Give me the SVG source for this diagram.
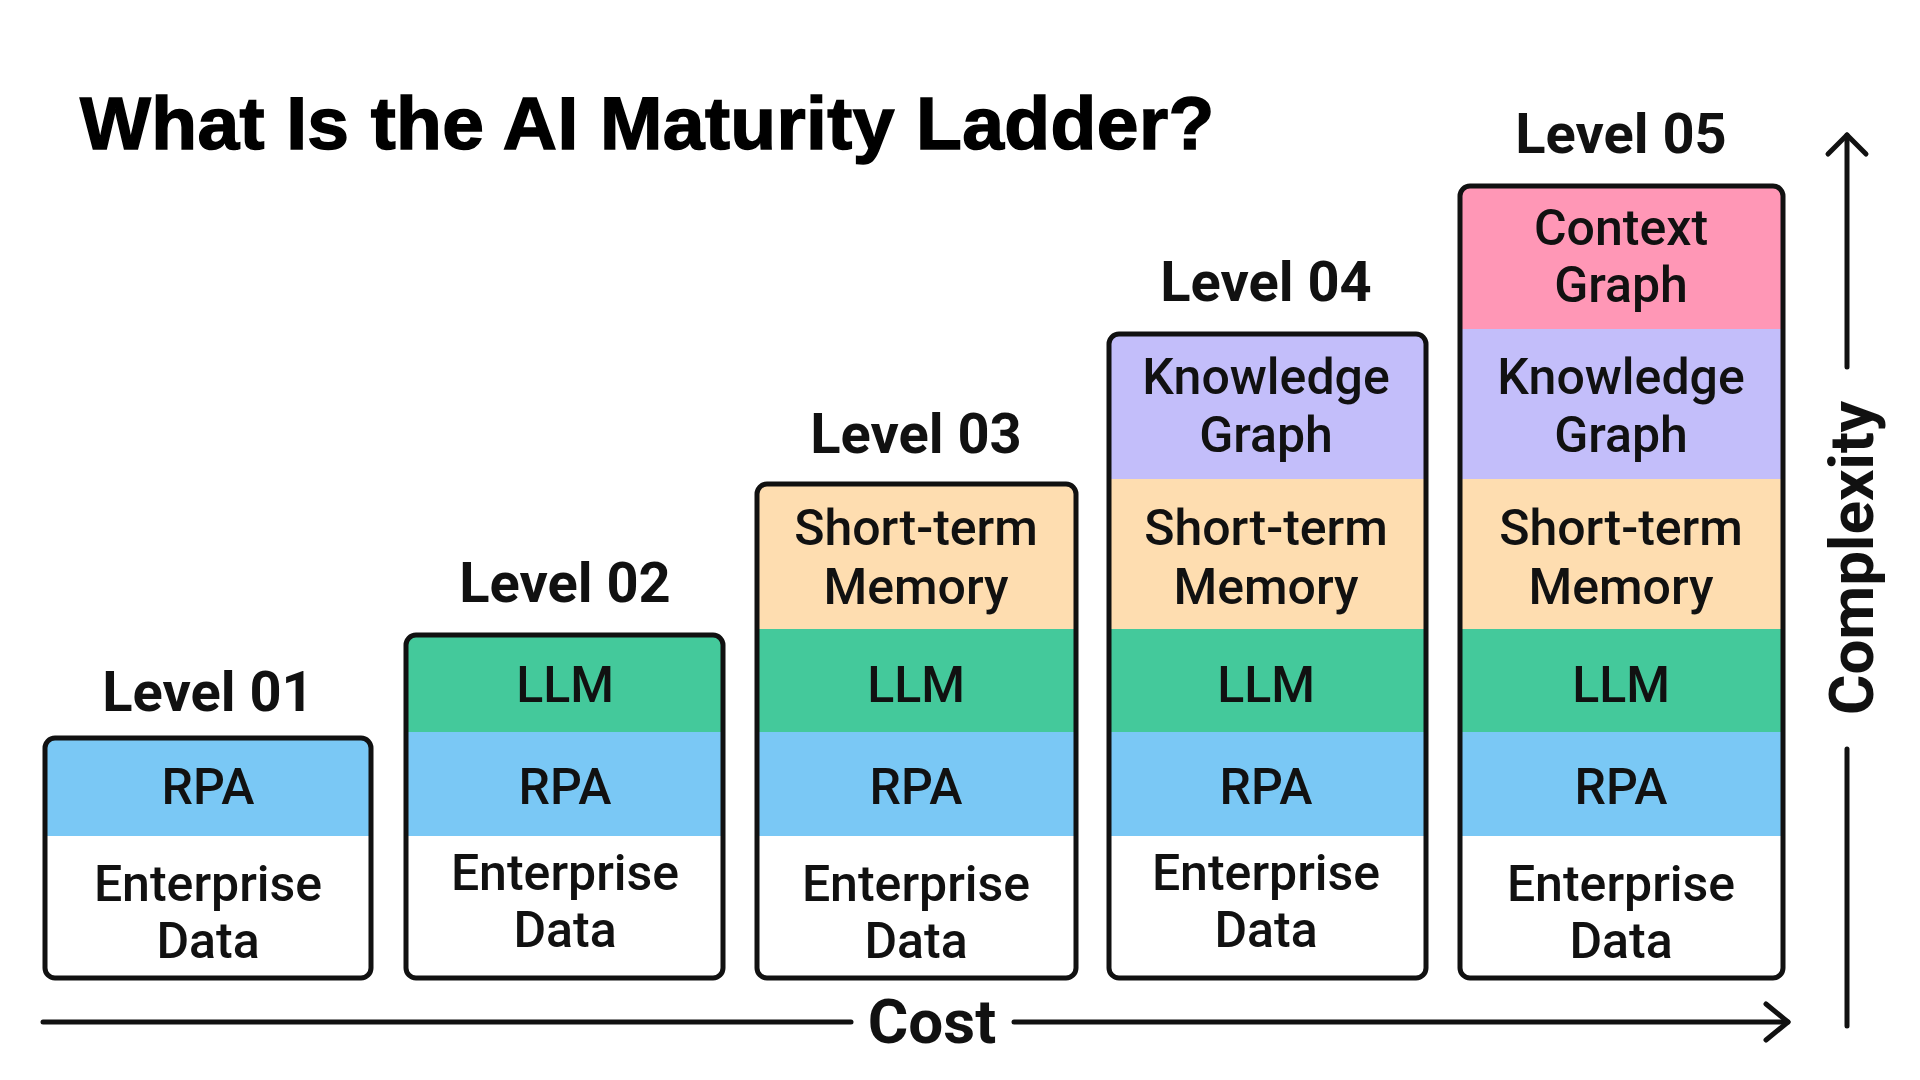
<svg xmlns="http://www.w3.org/2000/svg" width="1920" height="1080" viewBox="0 0 1920 1080">
<style>
.title{font-family:"Liberation Sans",Arial,sans-serif;font-weight:700;font-size:75px;fill:#000;stroke:#000;stroke-width:1.5;letter-spacing:0.4px}
.lvl{font-family:Roboto,"Liberation Sans",sans-serif;font-weight:700;font-size:56px;fill:#111;text-anchor:middle}
.lt{font-family:Roboto,"Liberation Sans",sans-serif;font-weight:500;font-size:50px;fill:#111;text-anchor:middle}
.ax{font-family:Roboto,"Liberation Sans",sans-serif;font-weight:700;font-size:62px;fill:#111}
.box{fill:none;stroke:#111;stroke-width:5}
.ent{fill:#fff}.rpa{fill:#7AC8F5}.llm{fill:#44C99B}.stm{fill:#FEDDB0}.kg{fill:#C3BEFA}.cg{fill:#FF97B6}
.line{stroke:#111;stroke-width:5;fill:none;stroke-linecap:round;stroke-linejoin:round}
</style>
<defs>
<clipPath id="c1"><rect x="45" y="738" width="326" height="240" rx="10"/></clipPath>
<clipPath id="c2"><rect x="406" y="635" width="317" height="343" rx="10"/></clipPath>
<clipPath id="c3"><rect x="757" y="484" width="319" height="494" rx="10"/></clipPath>
<clipPath id="c4"><rect x="1109" y="334" width="317" height="644" rx="10"/></clipPath>
<clipPath id="c5"><rect x="1460" y="186" width="323" height="792" rx="10"/></clipPath>
</defs>
<rect width="1920" height="1080" fill="#fff"/>
<text class="title" x="80" y="149">What Is the AI Maturity Ladder?</text>

<g id="level01">
<g clip-path="url(#c1)">
<rect class="rpa" x="40" y="730" width="340" height="106"/>
<rect class="ent" x="40" y="836" width="340" height="150"/>
</g>
<rect class="box" x="45" y="738" width="326" height="240" rx="10"/>
<text class="lvl" x="208" y="711">Level 01</text>
<text class="lt" x="208" y="804">RPA</text>
<text class="lt" x="208" y="901">Enterprise</text>
<text class="lt" x="208" y="958">Data</text>
</g>

<g id="level02">
<g clip-path="url(#c2)">
<rect class="llm" x="400" y="625" width="330" height="107"/>
<rect class="rpa" x="400" y="732" width="330" height="104"/>
<rect class="ent" x="400" y="836" width="330" height="150"/>
</g>
<rect class="box" x="406" y="635" width="317" height="343" rx="10"/>
<text class="lvl" x="565" y="602">Level 02</text>
<text class="lt" x="565" y="702">LLM</text>
<text class="lt" x="565" y="804">RPA</text>
<text class="lt" x="565" y="890">Enterprise</text>
<text class="lt" x="565" y="947">Data</text>
</g>

<g id="level03">
<g clip-path="url(#c3)">
<rect class="stm" x="750" y="475" width="330" height="154"/>
<rect class="llm" x="750" y="629" width="330" height="103"/>
<rect class="rpa" x="750" y="732" width="330" height="104"/>
<rect class="ent" x="750" y="836" width="330" height="150"/>
</g>
<rect class="box" x="757" y="484" width="319" height="494" rx="10"/>
<text class="lvl" x="916" y="453">Level 03</text>
<text class="lt" x="916" y="545">Short-term</text>
<text class="lt" x="916" y="604">Memory</text>
<text class="lt" x="916" y="702">LLM</text>
<text class="lt" x="916" y="804">RPA</text>
<text class="lt" x="916" y="901">Enterprise</text>
<text class="lt" x="916" y="958">Data</text>
</g>

<g id="level04">
<g clip-path="url(#c4)">
<rect class="kg" x="1100" y="325" width="335" height="154"/>
<rect class="stm" x="1100" y="479" width="335" height="150"/>
<rect class="llm" x="1100" y="629" width="335" height="103"/>
<rect class="rpa" x="1100" y="732" width="335" height="104"/>
<rect class="ent" x="1100" y="836" width="335" height="150"/>
</g>
<rect class="box" x="1109" y="334" width="317" height="644" rx="10"/>
<text class="lvl" x="1266" y="301">Level 04</text>
<text class="lt" x="1266" y="394">Knowledge</text>
<text class="lt" x="1266" y="452">Graph</text>
<text class="lt" x="1266" y="545">Short-term</text>
<text class="lt" x="1266" y="604">Memory</text>
<text class="lt" x="1266" y="702">LLM</text>
<text class="lt" x="1266" y="804">RPA</text>
<text class="lt" x="1266" y="890">Enterprise</text>
<text class="lt" x="1266" y="947">Data</text>
</g>

<g id="level05">
<g clip-path="url(#c5)">
<rect class="cg" x="1450" y="180" width="340" height="149"/>
<rect class="kg" x="1450" y="329" width="340" height="150"/>
<rect class="stm" x="1450" y="479" width="340" height="150"/>
<rect class="llm" x="1450" y="629" width="340" height="103"/>
<rect class="rpa" x="1450" y="732" width="340" height="104"/>
<rect class="ent" x="1450" y="836" width="340" height="150"/>
</g>
<rect class="box" x="1460" y="186" width="323" height="792" rx="10"/>
<text class="lvl" x="1621" y="153">Level 05</text>
<text class="lt" x="1621" y="245">Context</text>
<text class="lt" x="1621" y="302">Graph</text>
<text class="lt" x="1621" y="394">Knowledge</text>
<text class="lt" x="1621" y="452">Graph</text>
<text class="lt" x="1621" y="545">Short-term</text>
<text class="lt" x="1621" y="604">Memory</text>
<text class="lt" x="1621" y="702">LLM</text>
<text class="lt" x="1621" y="804">RPA</text>
<text class="lt" x="1621" y="901">Enterprise</text>
<text class="lt" x="1621" y="958">Data</text>
</g>

<g id="connectors">
<line class="line" x1="43" y1="1022" x2="851" y2="1022"/>
<line class="line" x1="1014" y1="1022" x2="1788" y2="1022"/>
<path class="line" d="M1766,1004 L1788,1022 L1766,1040"/>
<line class="line" x1="1847" y1="135" x2="1847" y2="367"/>
<path class="line" d="M1828,154 L1847,135 L1866,154"/>
<line class="line" x1="1847" y1="749" x2="1847" y2="1026"/>
</g>
<text class="ax" x="932" y="1043" text-anchor="middle" font-size="60">Cost</text>
<text class="ax" transform="translate(1873,558) rotate(-90)" x="0" y="0" text-anchor="middle" font-size="65">Complexity</text>
</svg>
